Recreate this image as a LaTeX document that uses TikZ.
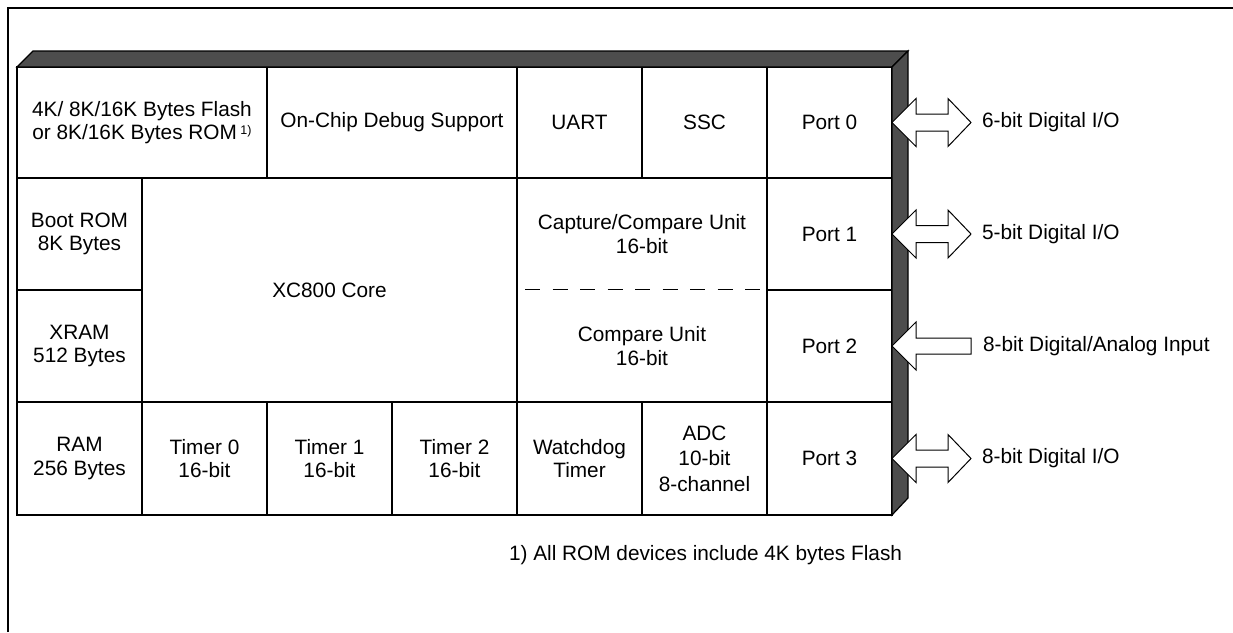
\documentclass[tikz,border=0pt]{standalone}
\usepackage{fontspec}
\setmainfont{Liberation Sans}
\usetikzlibrary{calc}
\definecolor{bevel}{RGB}{77,77,77}
\newcommand{\fnmark}{\,\raisebox{5pt}{\fontsize{12.5}{12.5}\selectfont 1)}}
\tikzset{
  cell/.style={draw, line width=1.2pt, inner sep=0pt, outer sep=0pt, align=center,
    font=\fontsize{20.8}{23.5}\selectfont},
  txt/.style={inner sep=0pt, outer sep=0pt, align=center, font=\fontsize{20.8}{23.5}\selectfont},
  blockarrow/.style={draw, fill=white, line width=1pt, line join=miter},
  face/.style={draw, fill=bevel, line width=1.2pt, line join=miter}
}
\begin{document}
\begin{tikzpicture}[x=1pt, y=-1pt]
\useasboundingbox (0,0) rectangle (1233,632);
% outer frame
\draw[line width=2pt] (8,632) -- (8,8) -- (1233,8);
% row 1
\node[cell, minimum width=250pt, minimum height=111pt, font=\fontsize{20.8}{22.5}\selectfont] (flash) at (142,122.5) {4K/ 8K/16K Bytes Flash\\or 8K/16K Bytes ROM\fnmark};
\node[cell, minimum width=250pt, minimum height=111pt] (ocds) at (392,122.5) {On-Chip Debug Support};
\node[cell, minimum width=125pt, minimum height=111pt] (uart) at (579.5,122.5) {UART};
\node[cell, minimum width=125pt, minimum height=111pt] (ssc) at (704.5,122.5) {SSC};
\node[cell, minimum width=125pt, minimum height=111pt] (port0) at (829.5,122.5) {Port 0};
% rows 2-3
\node[cell, minimum width=125pt, minimum height=112pt] (boot) at (79.5,234) {Boot ROM\\8K Bytes};
\node[cell, minimum width=125pt, minimum height=112pt] (xram) at (79.5,346) {XRAM\\512 Bytes};
\node[cell, minimum width=375pt, minimum height=224pt] (core) at (329.5,290) {XC800 Core};
\node[cell, minimum width=250pt, minimum height=224pt] (ccarea) at (642,290) {};
\node[txt] (ccu) at (642,234) {Capture/Compare Unit\\16-bit};
\node[txt] (cmp) at (642,346) {Compare Unit\\16-bit};
\draw[line width=1pt, dash pattern=on 15pt off 12.5pt] ($(ccarea.west)+(8,-1)$) -- ($(ccarea.east)+(-7,-1)$);
\node[cell, minimum width=125pt, minimum height=112pt] (port1) at (829.5,234) {Port 1};
\node[cell, minimum width=125pt, minimum height=112pt] (port2) at (829.5,346) {Port 2};
% row 4
\node[cell, minimum width=125pt, minimum height=113pt] (ram) at (79.5,458.5) {RAM\\256 Bytes};
\node[cell, minimum width=125pt, minimum height=113pt] (t0) at (204.5,458.5) {Timer 0\\16-bit};
\node[cell, minimum width=125pt, minimum height=113pt] (t1) at (329.5,458.5) {Timer 1\\16-bit};
\node[cell, minimum width=125pt, minimum height=113pt] (t2) at (454.5,458.5) {Timer 2\\16-bit};
\node[cell, minimum width=125pt, minimum height=113pt] (wdt) at (579.5,458.5) {Watchdog\\Timer};
\node[cell, minimum width=125pt, minimum height=113pt, font=\fontsize{20.8}{25.5}\selectfont] (adc) at (704.5,458.5) {ADC\\10-bit\\8-channel};
\node[cell, minimum width=125pt, minimum height=113pt] (port3) at (829.5,458.5) {Port 3};
% 3D faces
\draw[face] (flash.north west) -- ++(16,-16) -- ($(port0.north east)+(16,-16)$) -- (port0.north east) -- cycle;
\draw[face] (port0.north east) -- ++(16,-16) -- ($(port3.south east)+(16,-17)$) -- (port3.south east) -- cycle;
% labels
\node[txt, anchor=west] (l0) at (982,122.5) {6-bit Digital I/O};
\node[txt, anchor=west] (l1) at (982,234) {5-bit Digital I/O};
\node[txt, anchor=west] (l2) at (983,346) {8-bit Digital/Analog Input};
\node[txt, anchor=west] (l3) at (982,458.5) {8-bit Digital I/O};
% block arrows
\foreach \p in {port0,port1,port3}{
  \draw[blockarrow] (\p.east) -- ++(24,-24) -- ++(0,15.5) -- ++(32,0) -- ++(0,-15.5) -- ++(23,24)
    -- ++(-23,24) -- ++(0,-15.5) -- ++(-32,0) -- ++(0,15.5) -- cycle;
}
\draw[blockarrow] (port2.east) -- ++(24,-24) -- ++(0,16) -- ++(55,0) -- ++(0,16) -- ++(-55,0) -- ++(0,16) -- cycle;
% footnote
\node[txt, anchor=base west] (fn) at (509,560) {1) All ROM devices include 4K bytes Flash};
\end{tikzpicture}
\end{document}
